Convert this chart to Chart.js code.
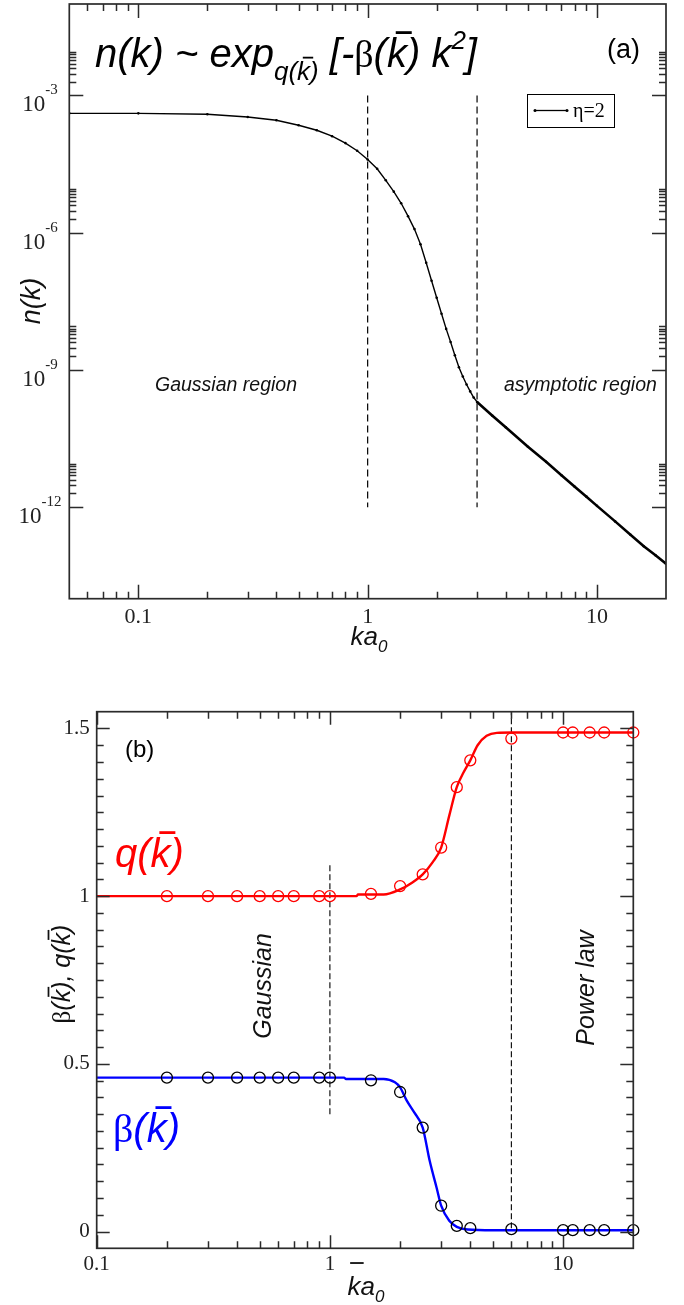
<!DOCTYPE html>
<html>
<head>
<meta charset="utf-8">
<script src="https://cdn.jsdelivr.net/npm/chart.js@4.4.1/dist/chart.umd.min.js"></script>
<style>
  body { margin: 0; background: #fff; width: 684px; height: 1305px; position: relative; overflow: hidden; }
  .panel { position: absolute; left: 0; width: 684px; }
  #wrapA { top: 0; height: 665px; }
  #wrapB { top: 665px; height: 640px; }
</style>
</head>
<body>
<div class="panel" id="wrapA"><canvas id="chartA" width="684" height="665"></canvas></div>
<div class="panel" id="wrapB"><canvas id="chartB" width="684" height="640"></canvas></div>
<script>
// ---- panel (a): momentum distribution n(k), eta = 2 ----
const kValues = [0.05, 0.1, 0.2, 0.3, 0.4, 0.5, 0.6, 0.7, 0.8, 0.9,
  1.0, 1.1, 1.2, 1.3, 1.4, 1.5, 1.6, 1.7, 1.8, 1.9, 2.0, 2.1, 2.2, 2.3, 2.4, 2.5, 2.6, 2.7, 2.8, 2.9, 3.0,
  3.5, 4, 5, 6, 7, 8, 9, 10, 12, 14, 16, 18, 20];
const nValues = [4.07e-4, 4.07e-4, 3.89e-4, 3.39e-4, 2.88e-4, 2.24e-4, 1.74e-4, 1.29e-4, 9.1e-5, 6.2e-5,
  4.0e-5, 2.5e-5, 1.4e-5, 7.9e-6, 4.4e-6, 2.3e-6, 1.2e-6, 5.6e-7, 2.2e-7, 8.9e-8, 3.8e-8, 1.7e-8, 7.9e-9,
  4.1e-9, 2.1e-9, 1.15e-9, 7.2e-10, 4.8e-10, 3.4e-10, 2.5e-10, 2.0e-10,
  1.0e-10, 5.6e-11, 2.1e-11, 9.8e-12, 5.0e-12, 2.8e-12, 1.7e-12, 1.07e-12, 4.9e-13, 2.5e-13, 1.4e-13, 8.9e-14, 5.8e-14];
const dashKA = [1, 3];          // region borders
const dashRangeA = [1e-3, 1e-12];

const xMajorA = [0.1, 1, 10];
const xLabelsA = ['0.1', '1', '10'];
const xMinorA = [0.06, 0.07, 0.08, 0.09, 0.2, 0.3, 0.4, 0.5, 0.6, 0.7, 0.8, 0.9, 2, 3, 4, 5, 6, 7, 8, 9];
const yMajorA = [1e-3, 1e-6, 1e-9, 1e-12];
const yExpA = ['-3', '-6', '-9', '-12'];
const yMinorA = [2e-3, 3e-3, 4e-3, 5e-3, 6e-3, 7e-3, 8e-3, 9e-3,
  2e-6, 3e-6, 4e-6, 5e-6, 6e-6, 7e-6, 8e-6, 9e-6,
  2e-9, 3e-9, 4e-9, 5e-9, 6e-9, 7e-9, 8e-9, 9e-9,
  2e-12, 3e-12, 4e-12, 5e-12, 6e-12, 7e-12, 8e-12, 9e-12];

// ---- panel (b): fitted q(k) and beta(k) ----
const kbarPoints = [0.2, 0.3, 0.4, 0.5, 0.6, 0.7, 0.9, 1.0, 1.5, 2.0, 2.5, 3.0, 3.5, 4.0, 6, 10, 11, 13, 15, 20];
const qPoints = [1.0, 1.0, 1.0, 1.0, 1.0, 1.0, 1.0, 1.0, 1.007, 1.03, 1.065, 1.145, 1.325, 1.405, 1.47, 1.488, 1.488, 1.488, 1.488, 1.488];
const betaPoints = [0.459, 0.459, 0.459, 0.459, 0.459, 0.459, 0.459, 0.459, 0.451, 0.416, 0.31, 0.077, 0.017, 0.010, 0.007, 0.004, 0.004, 0.004, 0.004, 0.004];
const qFitK = [0.1, 1.3, 1.32, 1.7, 2.0, 2.25, 2.5, 2.75, 3.0, 3.25, 3.5, 3.75, 4.0, 4.3, 4.7, 5.2, 6, 20];
const qFit = [1.0, 1.0, 1.005, 1.005, 1.02, 1.04, 1.065, 1.10, 1.145, 1.24, 1.325, 1.37, 1.405, 1.45, 1.478, 1.487, 1.488, 1.488];
const betaFitK = [0.1, 1.15, 1.17, 1.7, 1.9, 2.0, 2.13, 2.3, 2.5, 2.68, 2.87, 3.0, 3.25, 3.5, 3.9, 5, 20];
const betaFit = [0.459, 0.459, 0.455, 0.455, 0.445, 0.43, 0.392, 0.355, 0.31, 0.21, 0.13, 0.077, 0.032, 0.014, 0.006, 0.004, 0.004];
const dashKB = [1, 6];
const dashRangeB = [[0.35, 1.1], [0.01, 1.55]];

const xMajorB = [0.1, 1, 10];
const xLabelsB = ['0.1', '1', '10'];
const xMinorB = [0.2, 0.3, 0.4, 0.5, 0.6, 0.7, 0.8, 0.9, 2, 3, 4, 5, 6, 7, 8, 9];
const yMajorB = [0, 0.5, 1, 1.5];
const yLabelsB = ['0', '0.5', '1', '1.5'];
const yMinorB = [0.05, 0.1, 0.15, 0.2, 0.25, 0.3, 0.35, 0.4, 0.45, 0.55, 0.6, 0.65, 0.7, 0.75, 0.8, 0.85, 0.9, 0.95,
  1.05, 1.1, 1.15, 1.2, 1.25, 1.3, 1.35, 1.4, 1.45];

const AXIS = '#2b2b2b';
const SERIF = '"Liberation Serif", "Times New Roman", serif';
const SANS = '"Liberation Sans", Arial, sans-serif';

const pts = (xs, ys) => xs.map((x, i) => ({ x, y: ys[i] }));

// inward ticks on all four sides, xmgrace style
function drawFrame(chart, t) {
  const { ctx, chartArea: a, scales: { x, y } } = chart;
  ctx.save();
  ctx.strokeStyle = AXIS;
  ctx.lineWidth = 1.5;
  ctx.beginPath();
  const xt = (vals, len) => vals.forEach(v => {
    const p = Math.round(x.getPixelForValue(v)) + 0.5;
    ctx.moveTo(p, a.bottom); ctx.lineTo(p, a.bottom - len);
    ctx.moveTo(p, a.top); ctx.lineTo(p, a.top + len);
  });
  const yt = (vals, len) => vals.forEach(v => {
    const p = Math.round(y.getPixelForValue(v)) + 0.5;
    ctx.moveTo(a.left, p); ctx.lineTo(a.left + len, p);
    ctx.moveTo(a.right, p); ctx.lineTo(a.right - len, p);
  });
  xt(t.xMajor, t.major); xt(t.xMinor, t.xminor);
  yt(t.yMajor, t.major); yt(t.yMinor, t.yminor);
  ctx.stroke();
  ctx.lineWidth = 1.7;
  ctx.strokeRect(a.left, a.top, a.right - a.left, a.bottom - a.top);
  ctx.restore();
}

// text built from runs: {t, f, dy, bar:[x0,x1,yUp] in em}
function drawRuns(ctx, x, y, runs, color, align) {
  ctx.save();
  ctx.fillStyle = color;
  ctx.strokeStyle = color;
  ctx.textAlign = 'left';
  ctx.textBaseline = 'alphabetic';
  let total = 0;
  runs.forEach(r => { ctx.font = r.f; total += ctx.measureText(r.t).width; });
  let cx = align === 'center' ? x - total / 2 : x;
  runs.forEach(r => {
    ctx.font = r.f;
    const w = ctx.measureText(r.t).width;
    const yy = y + (r.dy || 0);
    ctx.fillText(r.t, cx, yy);
    if (r.bar) {
      const s = r.size;
      ctx.lineWidth = Math.max(1.4, s * 0.07);
      ctx.beginPath();
      ctx.moveTo(cx + r.bar[0] * s, yy - r.bar[2] * s);
      ctx.lineTo(cx + r.bar[1] * s, yy - r.bar[2] * s);
      ctx.stroke();
    }
    cx += w;
  });
  ctx.restore();
}

function rotated(ctx, x, y, runs, color) {
  ctx.save();
  ctx.translate(x, y);
  ctx.rotate(-Math.PI / 2);
  drawRuns(ctx, 0, 0, runs, color, 'center');
  ctx.restore();
}

const it = (s, fam) => `italic ${s}px ${fam || SANS}`;
const kbar = (s, dy, up) => ({ t: 'k', f: it(s), size: s, dy: dy || 0, bar: [0.22, 0.62, up || 0.86] });

const panelA = {
  id: 'panelA',
  afterDraw(chart) {
    const { ctx, scales: { y } } = chart;
    drawFrame(chart, { xMajor: xMajorA, xMinor: xMinorA, yMajor: yMajorA, yMinor: yMinorA, major: 14, xminor: 7, yminor: 7 });

    // y tick labels 10^n
    ctx.save();
    ctx.fillStyle = '#222';
    ctx.textBaseline = 'alphabetic';
    yMajorA.forEach((v, i) => {
      const py = y.getPixelForValue(v);
      ctx.font = `23px ${SERIF}`;
      const w1 = ctx.measureText('10').width;
      ctx.font = `15px ${SERIF}`;
      const w2 = ctx.measureText(yExpA[i]).width;
      const x0 = 40 - (w1 + w2) / 2;
      ctx.font = `23px ${SERIF}`;
      ctx.fillText('10', x0, py + 16);
      ctx.font = `15px ${SERIF}`;
      ctx.fillText(yExpA[i], x0 + w1, py - 1);
    });
    ctx.restore();

    // formula title
    drawRuns(ctx, 95, 67, [
      { t: 'n(k) ~ exp', f: it(40) },
      { t: 'q(', f: it(26) , dy: 13 },
      kbar(26, 13),
      { t: ')', f: it(26), dy: 13 },
      { t: ' [-', f: it(40) },
      { t: 'β', f: `38px ${SERIF}` },
      { t: '(', f: it(40) },
      kbar(40),
      { t: ') k', f: it(40) },
      { t: '2', f: it(26), dy: -18 },
      { t: ']', f: it(40) }
    ], '#000');
    drawRuns(ctx, 607, 58, [{ t: '(a)', f: `27px ${SANS}` }], '#000');

    // legend
    ctx.save();
    ctx.strokeStyle = '#000';
    ctx.lineWidth = 1;
    ctx.strokeRect(527.5, 94.5, 87, 33);
    ctx.lineWidth = 1.3;
    ctx.beginPath(); ctx.moveTo(535, 110.5); ctx.lineTo(567, 110.5); ctx.stroke();
    ctx.fillStyle = '#000';
    [535, 567].forEach(px => { ctx.beginPath(); ctx.arc(px, 110.5, 1.5, 0, 2 * Math.PI); ctx.fill(); });
    ctx.restore();
    drawRuns(ctx, 573, 117, [{ t: 'η=2', f: `20px ${SERIF}` }], '#000');

    // region names and axis titles
    drawRuns(ctx, 155, 391, [{ t: 'Gaussian region', f: it(19.5) }], '#111');
    drawRuns(ctx, 504, 391, [{ t: 'asymptotic region', f: it(19.5) }], '#111');
    rotated(ctx, 40, 301, [{ t: 'n(k)', f: it(27) }], '#111');
    drawRuns(ctx, 369, 645, [{ t: 'ka', f: it(26) }, { t: '0', f: it(17), dy: 7 }], '#111', 'center');
  }
};

const panelB = {
  id: 'panelB',
  afterDraw(chart) {
    const { ctx } = chart;
    drawFrame(chart, { xMajor: xMajorB, xMinor: xMinorB, yMajor: yMajorB, yMinor: yMinorB, major: 13, xminor: 7, yminor: 7 });
    drawRuns(ctx, 125, 92, [{ t: '(b)', f: `24px ${SANS}` }], '#000');
    drawRuns(ctx, 115, 202, [
      { t: 'q(', f: it(40) }, kbar(40), { t: ')', f: it(40) }
    ], '#ff0000');
    drawRuns(ctx, 113, 477, [
      { t: 'β', f: `40px ${SERIF}` }, { t: '(', f: it(40) }, kbar(40), { t: ')', f: it(40) }
    ], '#0000ff');
    rotated(ctx, 271, 321, [{ t: 'Gaussian', f: it(25) }], '#111');
    rotated(ctx, 594, 323, [{ t: 'Power law', f: it(25) }], '#111');
    rotated(ctx, 70, 309, [
      { t: 'β', f: `25px ${SERIF}` }, { t: '(', f: it(25) }, kbar(25), { t: '), q(', f: it(25) }, kbar(25), { t: ')', f: it(25) }
    ], '#111');
    drawRuns(ctx, 366, 630, [
      { t: 'k', f: it(26), size: 26, bar: [0.1, 0.62, 1.23] }, { t: 'a', f: it(26) }, { t: '0', f: it(17), dy: 7 }
    ], '#111', 'center');
  }
};

const tickFont = size => ({ family: SERIF, size });

new Chart(document.getElementById('chartA'), {
  type: 'scatter',
  data: {
    datasets: [
      {
        label: 'η=2',
        data: pts(kValues, nValues),
        showLine: true,
        borderColor: '#000',
        borderWidth: 1.4,
        pointRadius: 1.3,
        pointBackgroundColor: '#000',
        pointBorderWidth: 0,
        segment: { borderWidth: c => (c.p0.parsed.x >= 3 ? 2.6 : 1.4) }
      },
      ...dashKA.map(k => ({
        data: pts([k, k], dashRangeA),
        showLine: true,
        borderColor: '#000',
        borderWidth: 1.2,
        borderDash: [7, 4],
        pointRadius: 0
      }))
    ]
  },
  options: {
    responsive: false,
    animation: false,
    layout: { padding: { top: 2, right: 18, left: 0, bottom: 0 } },
    plugins: { legend: { display: false }, tooltip: { enabled: false } },
    scales: {
      x: {
        type: 'logarithmic', min: 0.05, max: 20,
        grid: { display: false, drawTicks: false },
        border: { display: false },
        afterBuildTicks: s => { s.ticks = [...xMinorA, ...xMajorA].sort((a, b) => a - b).map(v => ({ value: v })); },
        afterFit: s => { s.height = 66.3; },
        ticks: {
          autoSkip: false, maxRotation: 0, padding: 5, color: '#222', font: tickFont(22),
          callback: v => { const i = xMajorA.indexOf(v); return i >= 0 ? xLabelsA[i] : ''; }
        }
      },
      y: {
        type: 'logarithmic', min: 1e-14, max: 1e-1,
        grid: { display: false, drawTicks: false },
        border: { display: false },
        ticks: { display: false },
        afterFit: s => { s.width = 69.3; }
      }
    }
  },
  plugins: [panelA]
});

new Chart(document.getElementById('chartB'), {
  type: 'scatter',
  data: {
    datasets: [
      {
        label: 'q',
        data: pts(kbarPoints, qPoints),
        borderColor: '#ff0000', backgroundColor: 'rgba(0,0,0,0)',
        pointRadius: 5.5, borderWidth: 1.3, clip: false
      },
      {
        label: 'beta',
        data: pts(kbarPoints, betaPoints),
        borderColor: '#000', backgroundColor: 'rgba(0,0,0,0)',
        pointRadius: 5.5, borderWidth: 1.3, clip: false
      },
      {
        label: 'q fit',
        data: pts(qFitK, qFit),
        showLine: true, borderColor: '#ff0000', borderWidth: 2.4, pointRadius: 0,
        cubicInterpolationMode: 'monotone'
      },
      {
        label: 'beta fit',
        data: pts(betaFitK, betaFit),
        showLine: true, borderColor: '#0000ff', borderWidth: 2.4, pointRadius: 0,
        cubicInterpolationMode: 'monotone'
      },
      ...dashKB.map((k, i) => ({
        data: pts([k, k], dashRangeB[i]),
        showLine: true, borderColor: '#000', borderWidth: 1.1, borderDash: [6, 3], pointRadius: 0
      }))
    ]
  },
  options: {
    responsive: false,
    animation: false,
    layout: { padding: { top: 46.7, right: 50.7, left: 0, bottom: 0 } },
    plugins: { legend: { display: false }, tooltip: { enabled: false } },
    scales: {
      x: {
        type: 'logarithmic', min: 0.1, max: 20,
        grid: { display: false, drawTicks: false },
        border: { display: false },
        afterBuildTicks: s => { s.ticks = [...xMinorB, ...xMajorB].sort((a, b) => a - b).map(v => ({ value: v })); },
        afterFit: s => { s.height = 56.7; },
        ticks: {
          autoSkip: false, maxRotation: 0, padding: 4, color: '#222', font: tickFont(21),
          callback: v => { const i = xMajorB.indexOf(v); return i >= 0 ? xLabelsB[i] : ''; }
        }
      },
      y: {
        type: 'linear', min: -0.05, max: 1.55,
        grid: { display: false, drawTicks: false },
        border: { display: false },
        afterBuildTicks: s => { s.ticks = [...yMinorB, ...yMajorB].sort((a, b) => a - b).map(v => ({ value: v })); },
        afterFit: s => { s.width = 96.7; },
        ticks: {
          autoSkip: false, padding: 7, color: '#222', font: tickFont(21),
          callback: v => { const i = yMajorB.indexOf(v); return i >= 0 ? yLabelsB[i] : ''; }
        }
      }
    }
  },
  plugins: [panelB]
});
</script>
</body>
</html>
